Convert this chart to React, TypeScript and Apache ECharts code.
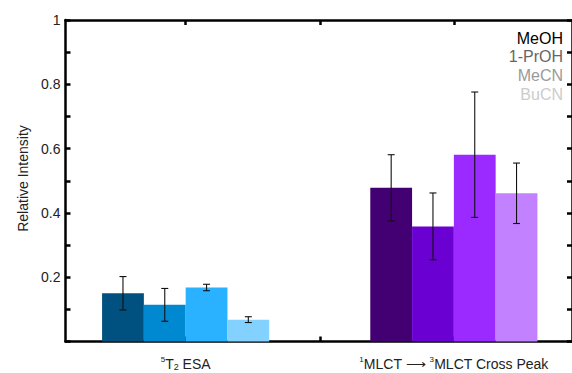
import React, { useEffect, useRef } from "react";
import * as echarts from "echarts";

// Group centres on the numeric x axis and their rich-text labels
const groupPositions = [1, 2];
const groupLabels = [
  "{sup|5}T{sub|2} ESA",
  "{sup|1}MLCT ⟶ {sup|3}MLCT Cross Peak",
];

// Solvents, one bar per group each
const solvents = ["MeOH", "1-PrOH", "MeCN", "BuCN"];

// Relative intensity per solvent: [⁵T₂ ESA, ¹MLCT → ³MLCT Cross Peak]
const meohValues = [0.15, 0.478];
const prohValues = [0.114, 0.358];
const mecnValues = [0.168, 0.581];
const bucnValues = [0.068, 0.461];

// Error bar half-widths, same order
const meohErrors = [0.052, 0.103];
const prohErrors = [0.051, 0.104];
const mecnErrors = [0.01, 0.195];
const bucnErrors = [0.009, 0.094];

const yTickValues = [0.2, 0.4, 0.6, 0.8, 1];

// Bar fills: blues for the first group, purples for the second
const groupColors = [
  ["#005080", "#0088D1", "#2AB1FF", "#82D1FF"],
  ["#420072", "#6A00D2", "#9A2AFF", "#C282FF"],
];
const legendColors = ["#000000", "#666666", "#9a9a9a", "#cccccc"];

const FONT = "'Liberation Sans', Arial, Helvetica, sans-serif";
const BAR_W = 0.1558;
const X_MIN = 0.552;
const X_MAX = 2.4405;

const seriesValues = [meohValues, prohValues, mecnValues, bucnValues];
const seriesErrors = [meohErrors, prohErrors, mecnErrors, bucnErrors];

function makeSeries(idx: number) {
  const data = groupPositions.map((x, j) => [x, seriesValues[idx][j], seriesErrors[idx][j]]);
  return {
    type: "custom",
    name: solvents[idx],
    xAxisIndex: 0,
    yAxisIndex: 0,
    data,
    renderItem: (params: any, api: any) => {
      const xc = api.value(0);
      const v = api.value(1);
      const e = api.value(2);
      const x0 = xc + (idx - 2) * BAR_W;
      const x1 = x0 + BAR_W;
      const pTop = api.coord([x0, v]);
      const pBot = api.coord([x1, 0]);
      const mid = (pTop[0] + pBot[0]) / 2;
      const eTop = api.coord([xc, v + e])[1];
      const eBot = api.coord([xc, v - e])[1];
      const cap = 3.5;
      const lineStyle = { stroke: "#111", lineWidth: 1.1 };
      return {
        type: "group",
        children: [
          {
            type: "rect",
            shape: {
              x: pTop[0],
              y: pTop[1],
              width: pBot[0] - pTop[0],
              height: pBot[1] - pTop[1],
            },
            style: { fill: groupColors[params.dataIndex][idx] },
          },
          { type: "line", shape: { x1: mid, y1: eTop, x2: mid, y2: eBot }, style: lineStyle },
          { type: "line", shape: { x1: mid - cap, y1: eTop, x2: mid + cap, y2: eTop }, style: lineStyle },
          { type: "line", shape: { x1: mid - cap, y1: eBot, x2: mid + cap, y2: eBot }, style: lineStyle },
        ],
      };
    },
  };
}

const axisLine = { show: true, onZero: false, lineStyle: { color: "#000", width: 2.5 } };

export default function App() {
  const ref = useRef<HTMLDivElement>(null);

  useEffect(() => {
    if (!ref.current) return;
    const chart = echarts.init(ref.current, null, { renderer: "svg" });

    const xTick = {
      show: true,
      inside: true,
      length: 5,
      customValues: [1, 1.5, 2],
      lineStyle: { color: "#000", width: 2.5 },
    };
    const yTick = {
      show: true,
      inside: true,
      length: 5,
      lineStyle: { color: "#000", width: 2.5 },
    };

    chart.setOption({
      animation: false,
      backgroundColor: "#ffffff",
      textStyle: { fontFamily: FONT },
      grid: { left: 65.5, right: -1.5, top: 20, bottom: 31.5, containLabel: false },
      xAxis: [
        {
          type: "value",
          position: "bottom",
          min: X_MIN,
          max: X_MAX,
          axisLine,
          axisTick: xTick,
          splitLine: { show: false },
          axisLabel: {
            customValues: groupPositions,
            margin: 14,
            color: "#222",
            fontFamily: FONT,
            fontSize: 14,
            lineHeight: 16,
            formatter: (v: number) => {
              const i = groupPositions.indexOf(Math.round(v));
              return i >= 0 ? groupLabels[i] : "";
            },
            rich: {
              sup: { fontSize: 8, lineHeight: 10, verticalAlign: "top", fontFamily: FONT, color: "#222" },
              sub: { fontSize: 9, lineHeight: 2, verticalAlign: "bottom", fontFamily: FONT, color: "#222" },
            },
          },
        },
        {
          type: "value",
          position: "top",
          min: X_MIN,
          max: X_MAX,
          axisLine,
          axisTick: xTick,
          splitLine: { show: false },
          axisLabel: { show: false },
        },
      ],
      yAxis: [
        {
          type: "value",
          position: "left",
          min: 0,
          max: 1,
          interval: 0.1,
          axisLine,
          axisTick: yTick,
          splitLine: { show: false },
          axisLabel: {
            margin: 5,
            color: "#222",
            fontFamily: FONT,
            fontSize: 14,
            formatter: (v: number) => {
              const r = Math.round(v * 10) / 10;
              const hit = yTickValues.find((t) => Math.abs(t - r) < 1e-6);
              if (hit === undefined) return "";
              return hit === 1 ? "1" : hit.toFixed(1);
            },
          },
        },
        {
          type: "value",
          position: "right",
          min: 0,
          max: 1,
          interval: 0.1,
          axisLine,
          axisTick: yTick,
          splitLine: { show: false },
          axisLabel: { show: false },
        },
      ],
      series: solvents.map((_, i) => makeSeries(i)),
      graphic: [
        {
          type: "text",
          x: 23,
          y: 178.5,
          rotation: Math.PI / 2,
          style: {
            text: "Relative Intensity",
            fontFamily: FONT,
            fontSize: 14,
            fill: "#222",
            textAlign: "center",
            textVerticalAlign: "middle",
          },
        },
        ...solvents.map((name, i) => ({
          type: "text",
          right: 9,
          top: 30 + i * 18.8,
          style: {
            text: name,
            fontFamily: FONT,
            fontSize: 16,
            fill: legendColors[i],
          },
        })),
      ],
    });

    return () => chart.dispose();
  }, []);

  return (
    <div
      ref={ref}
      style={{ position: "fixed", left: 0, top: 0, width: 572, height: 373, background: "#fff" }}
    />
  );
}
